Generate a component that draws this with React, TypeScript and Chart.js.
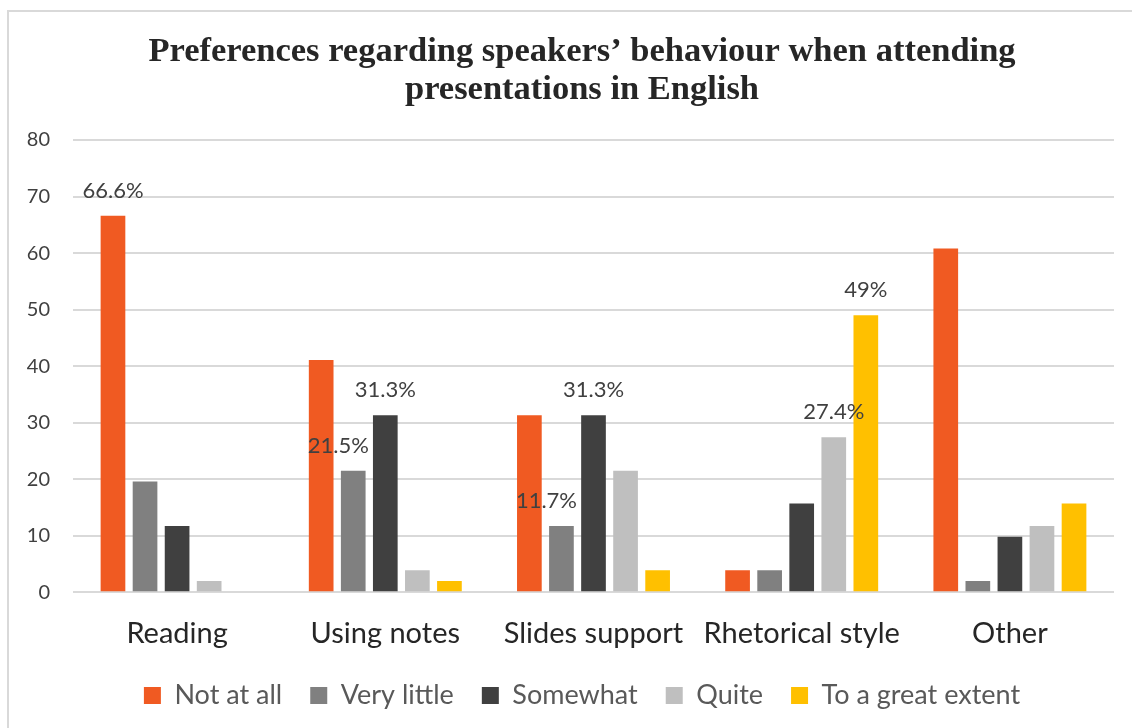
import React, { useEffect, useRef } from "react";
import { Chart, registerables } from "chart.js";

Chart.register(...registerables);

const categories = ["Reading", "Using notes", "Slides support", "Rhetorical style", "Other"];
const seriesNames = ["Not at all", "Very little", "Somewhat", "Quite", "To a great extent"];
const notAtAll = [66.6, 41.1, 31.3, 3.9, 60.8];
const veryLittle = [19.6, 21.5, 11.7, 3.9, 2];
const somewhat = [11.7, 31.3, 31.3, 15.7, 9.8];
const quite = [2, 3.9, 21.5, 27.4, 11.7];
const greatExtent = [0, 2, 3.9, 49, 15.7];
const seriesColors = ["#F05A22", "#808080", "#404040", "#BFBFBF", "#FFC000"];
const yTicks = [0, 10, 20, 30, 40, 50, 60, 70, 80];

// data labels shown on the chart: [series index, category index, text]
const labelSeries = [0, 1, 2, 1, 2, 3, 4];
const labelCategory = [0, 1, 1, 2, 2, 3, 3];
const labelTexts = ["66.6%", "21.5%", "31.3%", "11.7%", "31.3%", "27.4%", "49%"];

const titleLines = [
  "Preferences regarding speakers\u2019 behaviour when attending",
  "presentations in English",
];

const dataLabelPlugin = {
  id: "dataLabelPlugin",
  afterDatasetsDraw(chart: any) {
    const ctx = chart.ctx;
    ctx.save();
    ctx.font = "22px Lato";
    ctx.fillStyle = "#404040";
    ctx.textAlign = "center";
    ctx.textBaseline = "middle";
    labelTexts.forEach((t, i) => {
      const meta = chart.getDatasetMeta(labelSeries[i]);
      const el = meta.data[labelCategory[i]];
      if (!el) return;
      const dx = labelSeries[i] === 1 ? -15 : 0;
      ctx.fillText(t, el.x + dx, el.y - 25);
    });
    ctx.restore();
  },
};

export default function App() {
  const ref = useRef<HTMLCanvasElement | null>(null);
  useEffect(() => {
    if (!ref.current) return;
    const datasets = [notAtAll, veryLittle, somewhat, quite, greatExtent].map((d, i) => ({
      label: seriesNames[i],
      data: d,
      backgroundColor: seriesColors[i],
      borderWidth: 0,
      categoryPercentage: 0.77,
      barPercentage: 0.77,
      yAxisID: "y",
    }));
    const chart = new Chart(ref.current, {
      type: "bar",
      data: { labels: categories, datasets },
      options: {
        animation: false,
        responsive: false,
        maintainAspectRatio: false,
        layout: { padding: { left: 0, right: 0, top: 0, bottom: 9 } },
        plugins: {
          title: {
            display: true,
            text: titleLines,
            color: "#262626",
            font: { family: "'Liberation Serif'", size: 34.5, weight: "bold", lineHeight: 38 / 34.5 },
            padding: { top: 33, bottom: 31 },
          },
          legend: {
            display: true,
            position: "bottom",
            labels: {
              boxWidth: 17,
              boxHeight: 17,
              padding: 28,
              color: "#595959",
              font: { family: "Lato", size: 27 },
            },
          },
          tooltip: { enabled: false },
        },
        scales: {
          x: {
            grid: { display: false },
            border: { display: false },
            afterFit(scale: any) {
              scale.height -= 13;
            },
            ticks: {
              color: "#262626",
              font: { family: "Lato", size: 29 },
              padding: 16,
            },
          },
          y: {
            min: 0,
            max: 80,
            position: "left",
            afterFit(scale: any) {
              scale.width = 73;
            },
            afterBuildTicks(scale: any) {
              scale.ticks = yTicks.map((v) => ({ value: v }));
            },
            grid: { color: "#d9d9d9", lineWidth: 2, drawTicks: false },
            border: { display: false },
            ticks: {
              color: "#404040",
              font: { family: "Lato", size: 20 },
              padding: 23,
            },
          },
          yRight: {
            position: "right",
            min: 0,
            max: 80,
            afterFit(scale: any) {
              scale.width = 50;
            },
            grid: { display: false, drawTicks: false },
            border: { display: false },
            ticks: { display: false },
          },
        },
      },
      plugins: [dataLabelPlugin],
    });
    return () => chart.destroy();
  }, []);

  return (
    <div style={{ position: "fixed", left: 0, top: 0, width: 1132, height: 728, overflow: "hidden", background: "#fff" }}>
      <div
        style={{
          position: "absolute",
          left: 7,
          top: 10,
          width: 1300,
          height: 900,
          border: "2px solid #d9d9d9",
          boxSizing: "border-box",
        }}
      />
      <canvas
        ref={ref}
        width={1164}
        height={728}
        style={{ position: "absolute", left: 0, top: 0, width: 1164, height: 728 }}
      />
    </div>
  );
}
